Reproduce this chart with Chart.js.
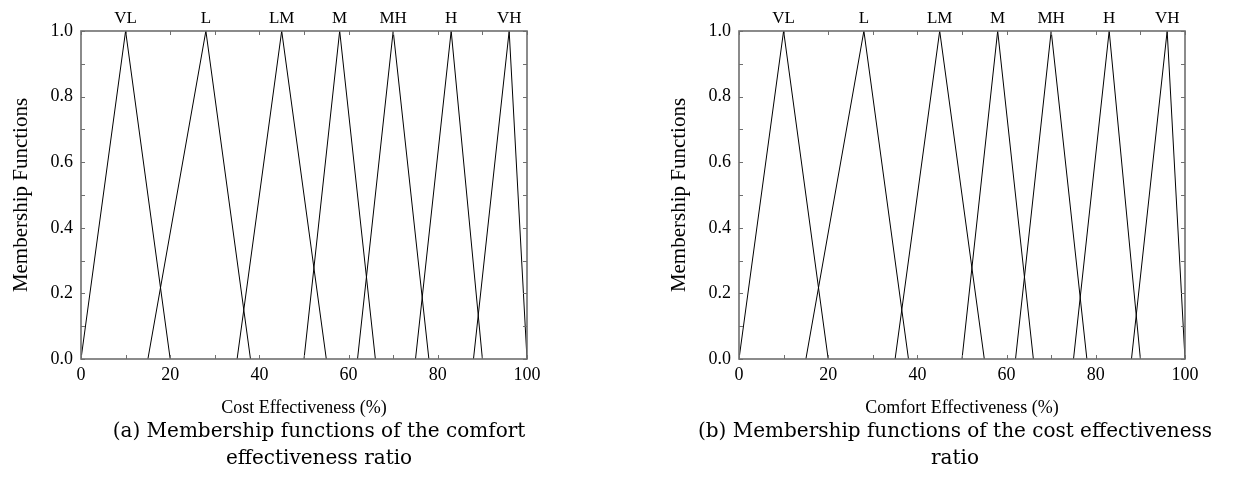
<!DOCTYPE html>
<html>
<head>
<meta charset="utf-8">
<script src="https://cdn.jsdelivr.net/npm/chart.js@4.4.1/dist/chart.umd.min.js"></script>
<style>
  body { margin: 0; background: #fff; width: 1247px; height: 489px; position: relative; overflow: hidden; }
  canvas { position: absolute; top: 0; }
  #chartA { left: 0; }
  #chartB { left: 658px; }
  .caption {
    position: absolute; top: 417px; width: 640px; text-align: center;
    font-family: "DejaVu Serif", serif; font-size: 20px; line-height: 27px; color: #000;
  }
  #capA { left: -1px; }
  #capB { left: 635px; }
</style>
</head>
<body>
<canvas id="chartA" width="560" height="420"></canvas>
<canvas id="chartB" width="560" height="420"></canvas>
<div class="caption" id="capA">(a) Membership functions of the comfort<br>effectiveness ratio</div>
<div class="caption" id="capB">(b) Membership functions of the cost effectiveness<br>ratio</div>

<script>
// linguistic terms and their triangular membership functions (a, b, c)
const terms = ['VL', 'L', 'LM', 'M', 'MH', 'H', 'VH'];
const leftFeet = [0, 15, 35, 50, 62, 75, 88];
const peaks = [10, 28, 45, 58, 70, 83, 96];
const rightFeet = [20, 38, 55, 66, 78, 90, 100];
const grades = [0, 1, 0];

const xTicks = [0, 20, 40, 60, 80, 100];
const yTicks = [0.0, 0.2, 0.4, 0.6, 0.8, 1.0];

Chart.defaults.font.family = "'Liberation Serif', serif";
Chart.defaults.font.size = 18;
Chart.defaults.color = '#000';

function triangles() {
    let sets = [];
    for (let i = 0; i < terms.length; i++) {
        sets.push({
            label: terms[i],
            data: [
                {x: leftFeet[i], y: grades[0]},
                {x: peaks[i], y: grades[1]},
                {x: rightFeet[i], y: grades[2]}
            ],
            borderColor: '#000',
            borderWidth: 1,
            pointRadius: 0,
            tension: 0
        });
    }
    return sets;
}

// frame with small inward ticks on all four sides
const framePlugin = {
    id: 'frame',
    afterDraw(chart) {
        const ctx = chart.ctx;
        const a = chart.chartArea;
        const sx = chart.scales.x, sy = chart.scales.y;
        ctx.save();
        ctx.strokeStyle = '#6e6e6e';
        ctx.lineWidth = 1.6;
        ctx.strokeRect(a.left, a.top, a.right - a.left, a.bottom - a.top);
        ctx.lineWidth = 1;
        ctx.beginPath();
        sx.ticks.forEach(t => {
            const px = Math.round(sx.getPixelForValue(t.value)) + 0.5;
            ctx.moveTo(px, a.bottom); ctx.lineTo(px, a.bottom - 4);
            ctx.moveTo(px, a.top); ctx.lineTo(px, a.top + 4);
        });
        sy.ticks.forEach(t => {
            const py = Math.round(sy.getPixelForValue(t.value)) + 0.5;
            ctx.moveTo(a.left, py); ctx.lineTo(a.left + 4, py);
            ctx.moveTo(a.right, py); ctx.lineTo(a.right - 4, py);
        });
        ctx.stroke();
        ctx.restore();
    }
};

// term names above each peak
const termLabels = {
    id: 'termLabels',
    afterDraw(chart) {
        const ctx = chart.ctx;
        const sx = chart.scales.x;
        ctx.save();
        ctx.font = "17px 'Liberation Serif', serif";
        ctx.fillStyle = '#000';
        ctx.textAlign = 'center';
        ctx.textBaseline = 'alphabetic';
        for (let i = 0; i < terms.length; i++) {
            ctx.fillText(terms[i], sx.getPixelForValue(peaks[i]), chart.chartArea.top - 8);
        }
        ctx.restore();
    }
};

function makeChart(id, xTitle) {
    return new Chart(document.getElementById(id), {
        type: 'line',
        data: { datasets: triangles() },
        options: {
            responsive: false,
            animation: false,
            layout: { padding: { left: 0, top: 31, right: 33, bottom: 0 } },
            plugins: { legend: { display: false }, tooltip: { enabled: false } },
            scales: {
                x: {
                    type: 'linear',
                    min: 0, max: 100,
                    grid: { display: false, drawTicks: false },
                    border: { display: false },
                    ticks: {
                        stepSize: 10,
                        padding: 5,
                        maxRotation: 0,
                        callback: v => xTicks.includes(v) ? String(v) : ''
                    },
                    title: { display: true, text: xTitle, font: { size: 18 }, padding: { top: 0, bottom: 1 } },
                    afterFit: s => { s.height = 61; }
                },
                y: {
                    min: 0, max: 1,
                    grid: { display: false, drawTicks: false },
                    border: { display: false },
                    ticks: {
                        stepSize: 0.1,
                        padding: 8,
                        callback: v => yTicks.some(t => Math.abs(t - v) < 1e-9) ? v.toFixed(1) : ''
                    },
                    title: { display: true, text: 'Membership Functions', font: { size: 21 }, padding: { top: 9, bottom: 0 } },
                    afterFit: s => { s.width = 81; }
                }
            }
        },
        plugins: [framePlugin, termLabels]
    });
}

makeChart('chartA', 'Cost Effectiveness (%)');
makeChart('chartB', 'Comfort Effectiveness (%)');
</script>
</body>
</html>
